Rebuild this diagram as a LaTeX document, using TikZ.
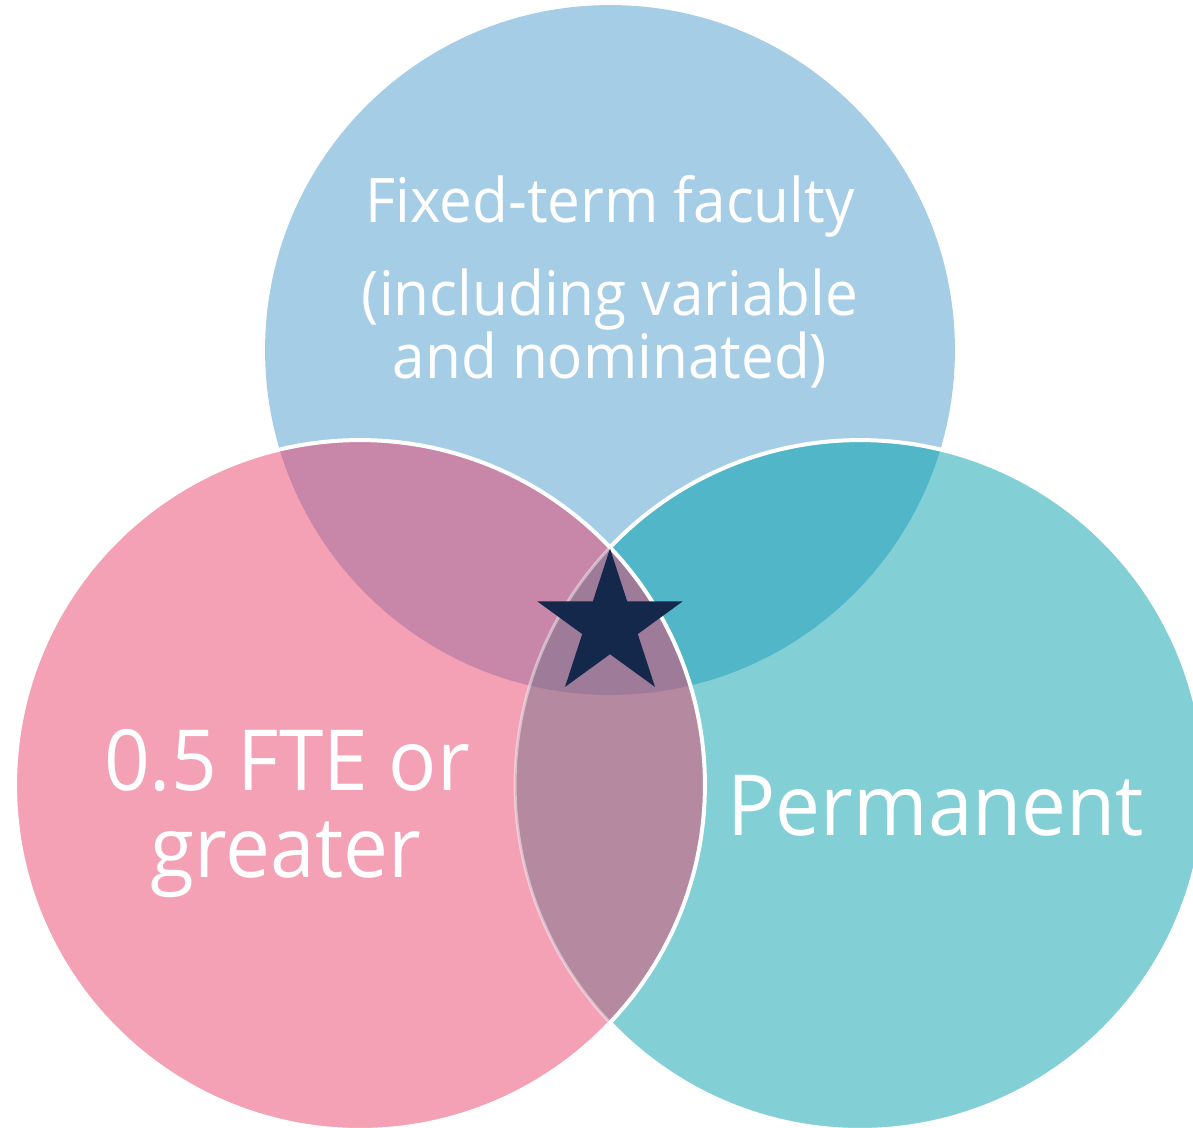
\documentclass[tikz,border=0pt]{standalone}
\usepackage{fontspec}
\setmainfont[FakeStretch=0.95]{Open Sans}
\usetikzlibrary{shapes.geometric}

\definecolor{fixedblue}{HTML}{A6CDE6}
\definecolor{ftepink}{HTML}{F4A0B5}
\definecolor{permteal}{HTML}{82D0D6}
\definecolor{bluepink}{HTML}{C886A8}
\definecolor{blueteal}{HTML}{50B6C8}
\definecolor{pinkteal}{HTML}{B589A0}
\definecolor{allthree}{HTML}{9E7B98}
\definecolor{starnavy}{HTML}{14284B}

\def\vennr{6.9cm}

\begin{document}
\begin{tikzpicture}[x=0.02cm,y=-0.02cm]
    \tikzstyle{label}=[text=white,inner sep=0pt,anchor=base]
    \tikzstyle{small}=[label,font=\fontsize{35}{42}\selectfont]
    \tikzstyle{big}=[label,font=\fontsize{48}{58}\selectfont]
    \tikzstyle{rim}=[draw=white,line width=0.08cm]

    \useasboundingbox (0,0) rectangle (1193,1127);
    \clip (0,0) rectangle (1193,1127);

    \coordinate (top) at (610,350);
    \coordinate (left) at (360,785);
    \coordinate (right) at (860,785);

    % fixed-term and permanent circles
    \fill[fixedblue] (top) circle[radius=\vennr];
    \fill[permteal] (right) circle[radius=\vennr];
    \begin{scope}
      \clip (top) circle[radius=\vennr];
      \fill[blueteal] (right) circle[radius=\vennr];
    \end{scope}
    \path[rim] (right) circle[radius=\vennr];

    % 0.5 FTE circle on top
    \fill[ftepink] (left) circle[radius=\vennr];
    \begin{scope}
      \clip (left) circle[radius=\vennr];
      \fill[pinkteal] (right) circle[radius=\vennr];
      \begin{scope}
        \clip (top) circle[radius=\vennr];
        \fill[bluepink] (left) circle[radius=\vennr];
        \clip (right) circle[radius=\vennr];
        \fill[allthree] (top) circle[radius=\vennr];
      \end{scope}
      \path[rim,draw opacity=0.45,line width=0.06cm] (right) circle[radius=\vennr];
    \end{scope}
    \path[rim] (left) circle[radius=\vennr];

    \node[star,star points=5,star point ratio=2.618,minimum size=3.06cm,
      inner sep=0pt,fill=starnavy] (star) at (610,625) {};

    \node[small] (fixed) at (610,222) {Fixed-term faculty};
    \node[small] (incl) at (610,315) {(including variable};
    \node[small] (nom) at (610,378) {and nominated)};
    \node[big] (fte) at (287,790) {0.5 FTE or};
    \node[big] (greater) at (286,877) {greater};
    \node[big] (perm) at (936,835) {Permanent};
\end{tikzpicture}
\end{document}
